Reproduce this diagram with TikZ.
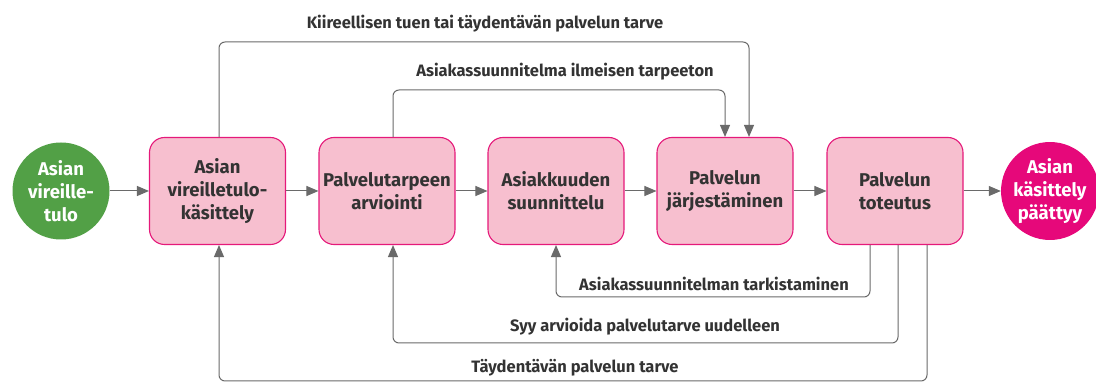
\documentclass[tikz,border=0pt]{standalone}
\usepackage{fontspec}
\setmainfont{Fira Sans}
\usetikzlibrary{arrows.meta}
\definecolor{phasefill}{HTML}{F7BFCF}
\definecolor{phaseedge}{HTML}{E5197A}
\definecolor{startgreen}{HTML}{52A046}
\definecolor{endpink}{HTML}{E6087A}
\definecolor{linegray}{HTML}{6A6A6A}
\definecolor{textgray}{HTML}{333333}
\tikzstyle{phase}=[draw=phaseedge, fill=phasefill, line width=1.1pt, rounded corners=15pt,
  minimum width=136pt, minimum height=107pt, align=center, text=textgray,
  font=\fontsize{18.5}{23}\selectfont\bfseries]
\tikzstyle{terminal}=[circle, minimum size=97pt, inner sep=0pt, align=center, text=white,
  font=\fontsize{18.5}{23}\selectfont\bfseries]
\tikzstyle{flow}=[draw=linegray, line width=1pt, -{Triangle[length=12pt,width=10pt]}, rounded corners=6pt]
\tikzstyle{flowlabel}=[text=textgray, font=\fontsize{16.5}{18}\selectfont\bfseries, inner sep=0pt]
\begin{document}
\begin{tikzpicture}[x=1pt,y=-1pt]
  \useasboundingbox (0,0) rectangle (1096,387);
  \node[terminal, fill=startgreen] (start) at (61,191) {Asian\\vireille-\\tulo};
  \foreach \n/\x/\t in {b1/217.5/{Asian\\vireilletulo-\\käsittely},
                        b2/387/{Palvelutarpeen\\arviointi},
                        b3/556/{Asiakkuuden\\suunnittelu},
                        b4/725/{Palvelun\\järjestäminen},
                        b5/895/{Palvelun\\toteutus}}
    \node[phase] (\n) at (\x,191) {\t};
  \node[terminal, fill=endpink] (stop) at (1050,191) {Asian\\käsittely\\päättyy};

  \draw[flow] (start) -- (b1);
  \draw[flow] (b1) -- (b2);
  \draw[flow] (b2) -- (b3);
  \draw[flow] (b3) -- (b4);
  \draw[flow] (b4) -- (b5);
  \draw[flow] (b5) -- (stop);

  % feedback above
  \coordinate (up1) at (749,42);
  \coordinate (up2) at (725,90);
  \draw[flow] ([xshift=1.5pt]b1.north) |- (up1) -- (b4.north -| up1);
  \draw[flow] ([xshift=6pt]b2.north) |- (up2) -- (b4.north -| up2);
  \node[flowlabel] (urgent) at (485,24) {Kiireellisen tuen tai täydentävän palvelun tarve};
  \node[flowlabel] (needless) at (565,72) {Asiakassuunnitelma ilmeisen tarpeeton};

  % feedback below
  \coordinate (dn1) at (556,297);
  \coordinate (dn2) at (393,343);
  \coordinate (dn3) at (219,381);
  \draw[flow] ([xshift=-25pt]b5.south) |- (dn1) -- (b3.south -| dn1);
  \draw[flow] ([xshift=3pt]b5.south) |- (dn2) -- (b2.south -| dn2);
  \draw[flow] ([xshift=32pt]b5.south) |- (dn3) -- (b1.south -| dn3);
  \node[flowlabel] (recheck) at (714,284) {Asiakassuunnitelman tarkistaminen};
  \node[flowlabel] (reassess) at (645,327) {Syy arvioida palvelutarve uudelleen};
  \node[flowlabel] (extra) at (575,368) {Täydentävän palvelun tarve};
\end{tikzpicture}
\end{document}
